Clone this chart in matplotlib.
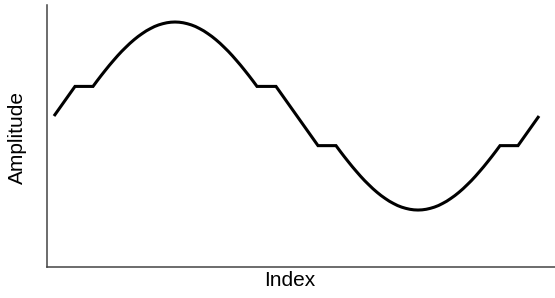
import matplotlib
matplotlib.use("Agg")
import matplotlib.pyplot as plt

# sine-like signal with short flat holds near the zero crossings
index = [0.0, 21.0,
         39.0, 43.1, 47.2, 51.3, 55.4, 59.5, 63.6, 67.7, 71.8, 75.9, 80.0, 84.1, 88.2, 92.3, 96.4, 100.5, 104.6,
         108.7, 112.8, 116.9, 121.0, 125.1, 129.2, 133.3, 137.4, 141.5, 145.6, 149.7, 153.8, 157.9, 162.0, 166.1,
         170.2, 174.3, 178.4, 182.5, 186.6, 190.7, 194.8, 198.9, 203.0,
         222.0, 243.0, 264.0,
         282.0, 286.1, 290.2, 294.3, 298.4, 302.5, 306.6, 310.7, 314.8, 318.9, 323.0, 327.1, 331.2, 335.3, 339.4,
         343.5, 347.6, 351.7, 355.8, 359.9, 364.0, 368.1, 372.2, 376.3, 380.4, 384.5, 388.6, 392.7, 396.8, 400.9,
         405.0, 409.1, 413.2, 417.3, 421.4, 425.5, 429.6, 433.7, 437.8, 441.9, 446.0,
         464.0, 485.0]
amplitude = [0.0, 0.315,
             0.315, 0.374, 0.431, 0.486, 0.540, 0.591, 0.641, 0.688, 0.731, 0.773, 0.811, 0.846, 0.877, 0.906, 0.930,
             0.952, 0.969, 0.982, 0.992, 0.998, 1.0, 0.998, 0.992, 0.982, 0.969, 0.952, 0.930, 0.906, 0.877, 0.846,
             0.811, 0.773, 0.731, 0.688, 0.641, 0.591, 0.540, 0.486, 0.431, 0.374, 0.315,
             0.315, 0.0, -0.315,
             -0.315, -0.374, -0.431, -0.486, -0.540, -0.591, -0.641, -0.688, -0.731, -0.773, -0.811, -0.846, -0.877,
             -0.906, -0.930, -0.952, -0.969, -0.982, -0.992, -0.998, -1.0, -0.998, -0.992, -0.982, -0.969, -0.952,
             -0.930, -0.906, -0.877, -0.846, -0.811, -0.773, -0.731, -0.688, -0.641, -0.591, -0.540, -0.486, -0.431,
             -0.374, -0.315,
             -0.315, 0.0]

plt.rcParams['font.family'] = ['Liberation Sans', 'DejaVu Sans']

fig = plt.figure(figsize=(5.55, 2.98), dpi=100)
ax = fig.add_axes([47/555, 31/298, 508/555, 262/298])

ax.plot(index, amplitude, color='black', linewidth=2.2, solid_joinstyle='miter', solid_capstyle='butt')

ax.set_xlim(-7, 501)
ax.set_ylim(-1.606, 1.181)
ax.set_xticks([])
ax.set_yticks([])
for side in ['top', 'right']:
    ax.spines[side].set_visible(False)
for side in ['left', 'bottom']:
    ax.spines[side].set_color('#444444')
    ax.spines[side].set_linewidth(1.1)

ax.set_xlabel('Index', fontsize=15)
ax.set_ylabel('Amplitude', fontsize=15)
ax.xaxis.set_label_coords(0.478, -0.015, transform=ax.transAxes)
ax.xaxis.label.set_va('top')
ax.yaxis.set_label_coords(-0.04, 0.496)

fig.savefig('out.png', dpi=100)
